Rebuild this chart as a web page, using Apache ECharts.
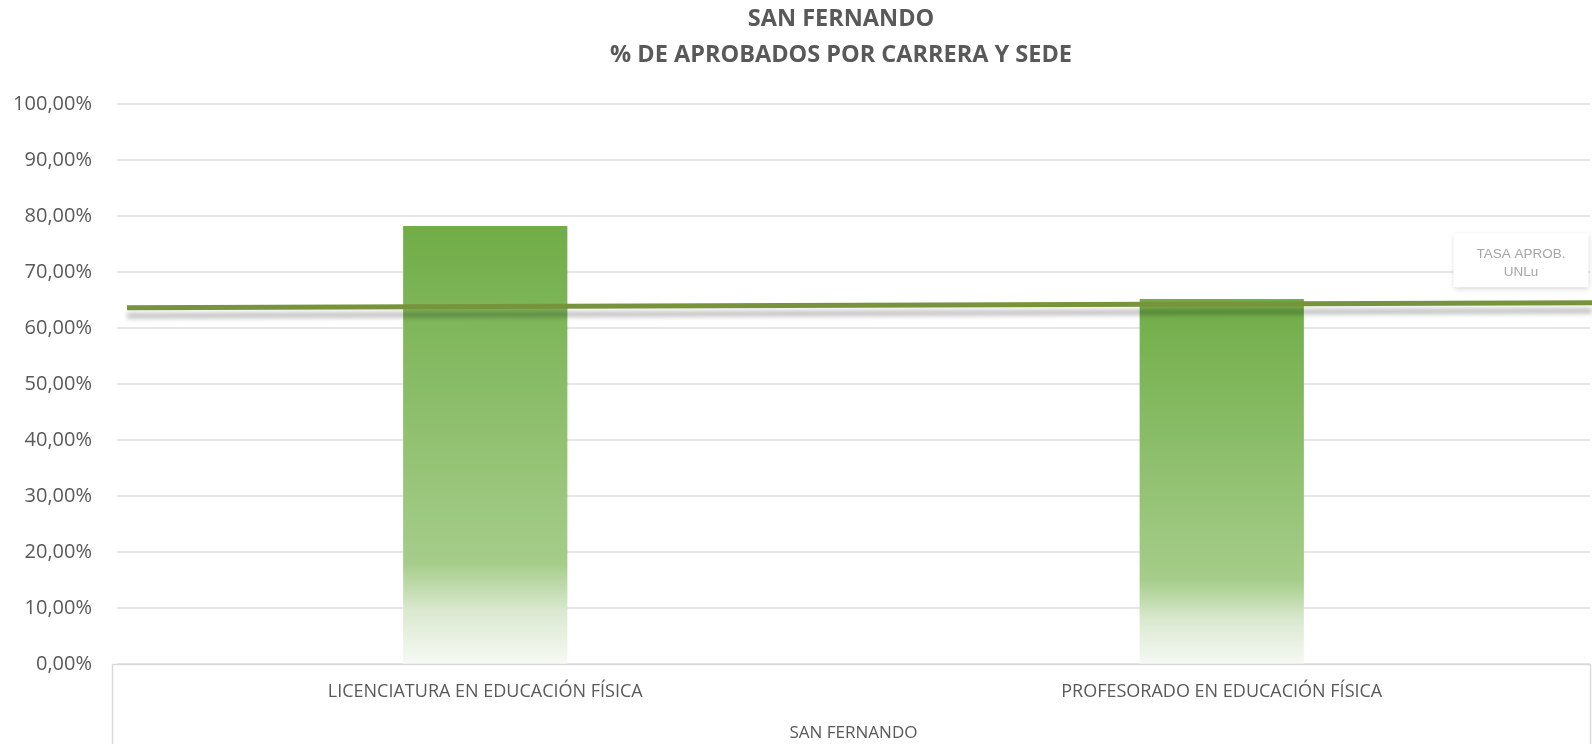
<!DOCTYPE html>
<html>
<head>
<meta charset="utf-8">
<script src="https://cdn.jsdelivr.net/npm/echarts@6/dist/echarts.min.js"></script>
<style>
  html, body { margin: 0; padding: 0; background: #fff; }
  #chart { width: 1592px; height: 744px; }
</style>
</head>
<body>
<div id="chart"></div>
<script>
// carreras de la sede
const carreras = ["LICENCIATURA EN EDUCACIÓN FÍSICA", "PROFESORADO EN EDUCACIÓN FÍSICA"];
const sede = ["SAN FERNANDO"];
// % de aprobados por carrera
const aprobados = [78.2, 65.2];
// tasa de aprobación UNLu (línea de referencia, extremo a extremo)
const tasaPuntos = ["inicio", "fin"];
const tasaUnlu = [63.6, 64.5];
const yTicks = [0, 10, 20, 30, 40, 50, 60, 70, 80, 90, 100];

const txt = "#595959";
const font = "'Open Sans', 'Noto Sans', sans-serif";

const chart = echarts.init(document.getElementById("chart"));

const barGradient = new echarts.graphic.LinearGradient(0, 0, 0, 1, [
  { offset: 0, color: "#70ad47" },
  { offset: 0.77, color: "#a5cd8a" },
  { offset: 0.88, color: "#dbe9d0" },
  { offset: 1, color: "#f6f9f4" },
]);

chart.setOption({
  backgroundColor: "#fff",
  animation: false,
  title: {
    text: "SAN FERNANDO\n% DE APROBADOS POR CARRERA Y SEDE",
    left: 836,
    top: -3,
    textAlign: "center",
    textStyle: {
      color: txt,
      fontFamily: font,
      fontWeight: "bold",
      fontSize: 23.5,
      lineHeight: 35.5,
    },
  },
  grid: [
    { left: 117, right: 2, top: 104, bottom: 80 },
    { left: 127, right: 0, top: 104, bottom: 80 },
  ],
  xAxis: [
    {
      type: "category",
      gridIndex: 0,
      data: carreras,
      axisLine: { show: false },
      axisTick: { show: false },
      axisLabel: { color: txt, fontFamily: font, fontSize: 18, margin: 19 },
    },
    {
      type: "category",
      gridIndex: 0,
      position: "bottom",
      offset: 48,
      data: sede,
      axisLine: { show: false },
      axisTick: { show: false },
      axisLabel: { color: txt, fontFamily: font, fontSize: 17, margin: 13 },
    },
    {
      type: "category",
      gridIndex: 1,
      boundaryGap: false,
      data: tasaPuntos,
      show: false,
    },
  ],
  yAxis: [
    {
      type: "value",
      gridIndex: 0,
      min: 0,
      max: 100,
      interval: 10,
      axisLine: { show: false },
      axisTick: { show: false },
      axisLabel: {
        color: txt,
        fontFamily: font,
        fontSize: 20,
        margin: 25,
        formatter: (v) => (yTicks.includes(v) ? v.toFixed(2).replace(".", ",") + "%" : ""),
      },
      splitLine: { lineStyle: { color: "#dedede", width: 1.5 } },
    },
    { type: "value", gridIndex: 1, min: 0, max: 100, show: false },
  ],
  graphic: [
    {
      type: "polyline",
      shape: { points: [[112.5, 744], [112.5, 664.5], [1590.5, 664.5], [1590.5, 744]] },
      style: { stroke: "#d9d9d9", lineWidth: 1.5, fill: null },
      z: 10,
    },
  ],
  series: [
    {
      name: "% aprobados",
      type: "bar",
      xAxisIndex: 0,
      yAxisIndex: 0,
      barWidth: "22.3%",
      data: aprobados,
      itemStyle: { color: barGradient },
    },
    {
      name: "TASA APROB. UNLu",
      type: "line",
      xAxisIndex: 2,
      yAxisIndex: 1,
      z: 5,
      symbol: "circle",
      symbolSize: 1,
      showSymbol: true,
      itemStyle: { color: "rgba(0,0,0,0)" },
      data: tasaUnlu.map((v, i) =>
        i === tasaUnlu.length - 1
          ? {
              value: v,
              label: {
                show: true,
                position: "top",
                distance: 5,
                offset: [-71, -10],
                formatter: "TASA APROB.\nUNLu",
                color: "#a6a6a6",
                fontFamily: "'Liberation Sans', Arial, sans-serif",
                fontSize: 13.5,
                lineHeight: 18,
                width: 135,
                align: "center",
                padding: [12, 0, 6, 0],
                backgroundColor: "#fff",
                shadowColor: "rgba(0,0,0,0.18)",
                shadowBlur: 5,
                shadowOffsetY: 2,
              },
            }
          : v
      ),
      lineStyle: {
        color: "#77933c",
        width: 5,
        shadowColor: "rgba(0,0,0,0.28)",
        shadowBlur: 5,
        shadowOffsetY: 8,
      },
    },
  ],
});
</script>
</body>
</html>
